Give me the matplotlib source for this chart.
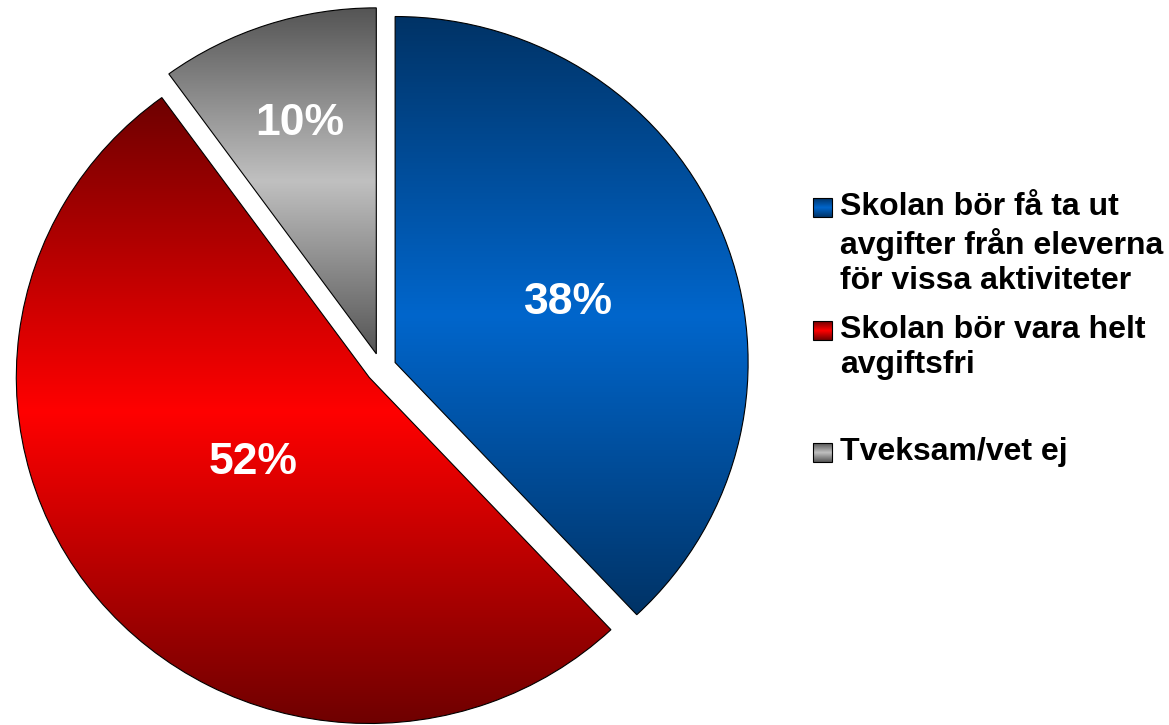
import numpy as np
import matplotlib.pyplot as plt
from matplotlib.colors import LinearSegmentedColormap
from matplotlib.patches import Rectangle

# ----------------------------------------------------------------
#  Data
# ----------------------------------------------------------------
labels = ["Skolan bör få ta ut\navgifter från eleverna\nför vissa aktiviteter",
          "Skolan bör vara helt\navgiftsfri",
          "Tveksam/vet ej"]
shares = [38, 52, 10]
dark_colors = ["#003366", "#6e0000", "#555555"]
light_colors = ["#0066cc", "#ff0000", "#c0c0c0"]
label_dist = [0.52, 0.41, 0.70]   # where the % text sits, fraction of radius
label_turn = [-2, -3, 0]          # small angle nudge, degrees

# ----------------------------------------------------------------
#  Layout (pixels)
# ----------------------------------------------------------------
W, H = 1169, 725
CX, CY = 381, 368      # pie centre, from top-left
RX, RY = 353, 346      # pixels per unit radius (pie is slightly squashed)


def dx(px):
    return (px - CX) / RX


def dy(py):
    return (CY - py) / RY


def gradient_cmap(dark, light):
    return LinearSegmentedColormap.from_list("g", [dark, light, dark])


plt.rcParams['font.family'] = ['Liberation Sans', 'DejaVu Sans']
fig = plt.figure(figsize=(W / 100, H / 100), dpi=100)
ax = fig.add_axes([0, 0, 1, 1])

wedges, _, pct = ax.pie(shares, startangle=90, counterclock=False,
                        explode=[0.043] * len(shares), autopct='%d%%',
                        colors=light_colors,
                        wedgeprops=dict(edgecolor='black', linewidth=0.8),
                        textprops=dict(color='white', fontsize=32,
                                       fontweight='bold'))

grad = np.linspace(0, 1, 256).reshape(-1, 1)
for w, dark, light, t, d, turn in zip(wedges, dark_colors, light_colors, pct,
                                      label_dist, label_turn):
    verts = w.get_path().vertices
    x0, y0 = verts.min(axis=0)
    x1, y1 = verts.max(axis=0)
    im = ax.imshow(grad, cmap=gradient_cmap(dark, light), origin='lower',
                   extent=[x0, x1, y0, y1], aspect='auto', zorder=0.5)
    im.set_clip_path(w)
    w.set_facecolor('none')
    mid = np.deg2rad((w.theta1 + w.theta2) / 2 + turn)
    cx, cy = w.center
    t.set_position((cx + d * w.r * np.cos(mid), cy + d * w.r * np.sin(mid)))

# ----------------------------------------------------------------
#  Legend (hand placed)
# ----------------------------------------------------------------
entry_top = [192, 315, 437]
for lab, dark, light, top in zip(labels, dark_colors, light_colors, entry_top):
    sq_top, sq = top + 6, 19
    ax.imshow(grad, cmap=gradient_cmap(dark, light), origin='lower',
              extent=[dx(813), dx(813 + sq), dy(sq_top + sq), dy(sq_top)],
              aspect='auto', zorder=0.5)
    ax.add_patch(Rectangle((dx(813), dy(sq_top + sq)), sq / RX, sq / RY,
                           facecolor='none', edgecolor='black', linewidth=0.8))
    ax.text(dx(840), dy(top), lab, ha='left', va='top', fontsize=23,
            fontweight='bold', linespacing=1.23, color='black')

ax.set_aspect('auto')
ax.set_xlim(dx(0), dx(W))
ax.set_ylim(dy(H), dy(0))
ax.axis('off')

fig.savefig('out.png', dpi=100)
